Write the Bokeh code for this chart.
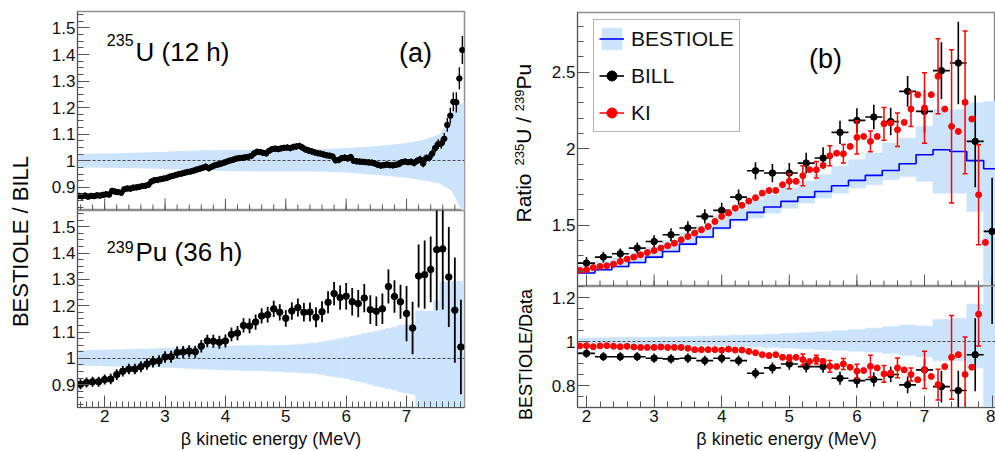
import numpy as np
from bokeh.plotting import figure
from bokeh.layouts import row, column
from bokeh.models import Range1d, FixedTicker, CustomJSTickFormatter, Legend, LegendItem
from bokeh.core.properties import value
from bokeh.embed import file_html
from bokeh.resources import INLINE

FONT = "Liberation Sans"
BAND = "#cbe3fb"
AXC = "#555555"

# ---------------- (a) top : 235U, BESTIOLE / BILL, 0.05 MeV bins ----------------
U_E = [round(1.575 + 0.05 * i, 3) for i in range(128)]
U_RATIO = [0.868, 0.866, 0.869, 0.865, 0.868, 0.867, 0.870, 0.869, 0.872, 0.874,
           0.873, 0.887, 0.884, 0.882, 0.880, 0.893, 0.896, 0.895, 0.899, 0.900,
           0.902, 0.905, 0.906, 0.910, 0.922, 0.927, 0.928, 0.931, 0.933, 0.935,
           0.940, 0.943, 0.946, 0.950, 0.952, 0.955, 0.958, 0.960, 0.963, 0.967,
           0.970, 0.974, 0.978, 0.972, 0.978, 0.983, 0.986, 0.989, 0.993, 0.997,
           1.001, 1.004, 1.008, 1.010, 1.011, 1.013, 1.015, 1.018, 1.028, 1.034,
           1.033, 1.030, 1.028, 1.038, 1.044, 1.046, 1.044, 1.047, 1.049, 1.050,
           1.048, 1.052, 1.054, 1.056, 1.050, 1.043, 1.039, 1.036, 1.032, 1.029,
           1.027, 1.024, 1.021, 1.019, 1.016, 1.002, 1.003, 1.010, 1.012, 1.009,
           1.014, 1.000, 0.998, 0.997, 0.996, 0.995, 0.994, 0.993, 0.990, 0.985,
           0.982, 0.984, 0.986, 0.984, 0.983, 0.985, 0.988, 0.995, 0.997, 0.995,
           0.996, 0.992, 1.000, 1.005, 0.990, 1.010, 1.012, 1.027, 1.048, 1.063,
           1.065, 1.083, 1.135, 1.170, 1.222, 1.220, 1.310, 1.417]
U_ERR = [0.011, 0.011, 0.011, 0.011, 0.011, 0.011, 0.011, 0.011, 0.011, 0.011,
         0.011, 0.011, 0.011, 0.011, 0.011, 0.011, 0.011, 0.011, 0.011, 0.011,
         0.011, 0.011, 0.011, 0.011, 0.011, 0.011, 0.011, 0.011, 0.011, 0.011,
         0.011, 0.011, 0.011, 0.011, 0.011, 0.011, 0.011, 0.011, 0.011, 0.011,
         0.011, 0.011, 0.011, 0.011, 0.011, 0.011, 0.011, 0.011, 0.011, 0.011,
         0.011, 0.011, 0.011, 0.011, 0.011, 0.011, 0.011, 0.011, 0.011, 0.011,
         0.011, 0.011, 0.011, 0.011, 0.011, 0.011, 0.011, 0.011, 0.011, 0.011,
         0.012, 0.012, 0.012, 0.012, 0.012, 0.012, 0.012, 0.012, 0.012, 0.012,
         0.012, 0.012, 0.012, 0.012, 0.012, 0.012, 0.012, 0.012, 0.012, 0.012,
         0.012, 0.012, 0.012, 0.012, 0.012, 0.012, 0.012, 0.012, 0.012, 0.012,
         0.012, 0.012, 0.012, 0.012, 0.012, 0.012, 0.012, 0.012, 0.012, 0.012,
         0.013, 0.013, 0.013, 0.014, 0.014, 0.015, 0.015, 0.016, 0.017, 0.018,
         0.020, 0.022, 0.026, 0.030, 0.035, 0.038, 0.042, 0.053]
U_BAND_E = [1.55, 2.0, 2.5, 3.0, 3.6, 4.5, 5.5, 6.0, 6.5, 7.0, 7.3, 7.55, 7.65, 7.73, 7.81, 7.9, 7.96]
U_BAND_HI = [1.027, 1.028, 1.030, 1.034, 1.040, 1.042, 1.043, 1.048, 1.055, 1.067, 1.080, 1.100,
             1.133, 1.170, 1.210, 1.215, 1.220]
U_BAND_LO = [0.975, 0.974, 0.972, 0.969, 0.964, 0.960, 0.960, 0.956, 0.947, 0.936, 0.925, 0.915,
             0.900, 0.890, 0.860, 0.818, 0.800]

# ---------------- (a) bottom : 239Pu, 0.1 MeV bins ----------------
PU_E = [round(1.6 + 0.1 * i, 2) for i in range(64)]
PU_RATIO = [0.901, 0.908, 0.911, 0.911, 0.919, 0.921, 0.938, 0.951, 0.959, 0.959,
            0.968, 0.978, 0.987, 0.990, 1.005, 1.006, 1.022, 1.024, 1.027, 1.025,
            1.046, 1.066, 1.065, 1.061, 1.066, 1.091, 1.096, 1.125, 1.123, 1.138,
            1.161, 1.166, 1.188, 1.175, 1.152, 1.180, 1.193, 1.175, 1.176, 1.156,
            1.177, 1.213, 1.246, 1.231, 1.236, 1.215, 1.208, 1.229, 1.185, 1.179,
            1.188, 1.273, 1.235, 1.215, 1.170, 1.115, 1.313, 1.318, 1.338, 1.413,
            1.416, 1.309, 1.183, 1.043]
PU_ERR = [0.019, 0.019, 0.019, 0.019, 0.019, 0.020, 0.020, 0.020, 0.020, 0.020,
          0.021, 0.021, 0.022, 0.022, 0.022, 0.023, 0.023, 0.023, 0.023, 0.023,
          0.024, 0.024, 0.025, 0.025, 0.025, 0.026, 0.027, 0.027, 0.028, 0.029,
          0.029, 0.030, 0.031, 0.031, 0.032, 0.033, 0.034, 0.035, 0.036, 0.038,
          0.040, 0.042, 0.044, 0.046, 0.050, 0.052, 0.052, 0.054, 0.055, 0.056,
          0.058, 0.065, 0.062, 0.065, 0.105, 0.100, 0.120, 0.130, 0.125, 0.230,
          0.230, 0.190, 0.200, 0.180]
PU_BAND_HI = [1.030, 1.030, 1.031, 1.031, 1.032, 1.032, 1.033, 1.033, 1.034, 1.034,
              1.035, 1.035, 1.036, 1.037, 1.038, 1.039, 1.040, 1.041, 1.042, 1.043,
              1.044, 1.045, 1.046, 1.046, 1.047, 1.047, 1.048, 1.048, 1.049, 1.049,
              1.049, 1.049, 1.049, 1.050, 1.050, 1.051, 1.053, 1.054, 1.056, 1.058,
              1.062, 1.066, 1.070, 1.074, 1.079, 1.083, 1.088, 1.093, 1.098, 1.103,
              1.108, 1.113, 1.118, 1.125, 1.128, 1.130, 1.180, 1.180, 1.180, 1.220,
              1.290, 1.290, 1.293, 1.293]
PU_BAND_LO = [0.973, 0.973, 0.972, 0.972, 0.971, 0.971, 0.970, 0.970, 0.969, 0.969,
              0.968, 0.968, 0.967, 0.967, 0.966, 0.965, 0.964, 0.963, 0.962, 0.961,
              0.960, 0.959, 0.958, 0.957, 0.956, 0.955, 0.955, 0.954, 0.954, 0.954,
              0.953, 0.952, 0.951, 0.950, 0.948, 0.947, 0.946, 0.945, 0.944, 0.942,
              0.938, 0.935, 0.931, 0.927, 0.923, 0.918, 0.913, 0.907, 0.901, 0.895,
              0.890, 0.885, 0.880, 0.872, 0.868, 0.863, 0.700, 0.700, 0.700, 0.700,
              0.700, 0.700, 0.700, 0.700]

# ---------------- (b) : ratio 235U / 239Pu, 0.25 MeV bins ----------------
B_E = [2.0, 2.25, 2.5, 2.75, 3.0, 3.25, 3.5, 3.75, 4.0, 4.25, 4.5, 4.75, 5.0,
       5.25, 5.5, 5.75, 6.0, 6.25, 6.5, 6.75, 7.0, 7.25, 7.5, 7.75, 8.0]
BEST = [1.188, 1.209, 1.231, 1.257, 1.292, 1.329, 1.377, 1.423, 1.482, 1.536, 1.584, 1.619, 1.656,
        1.684, 1.721, 1.758, 1.793, 1.826, 1.858, 1.902, 1.961, 1.993, 1.982, 1.922, 1.869]
BEST_HI = [1.237, 1.264, 1.286, 1.318, 1.357, 1.401, 1.449, 1.497, 1.558, 1.606, 1.667, 1.699, 1.743,
           1.787, 1.830, 1.885, 1.928, 1.972, 2.037, 2.070, 2.146, 2.255, 2.255, 2.299, 2.309]
BEST_LO = [1.183, 1.203, 1.224, 1.248, 1.283, 1.322, 1.368, 1.414, 1.471, 1.525, 1.547, 1.580, 1.612,
           1.645, 1.678, 1.710, 1.743, 1.765, 1.797, 1.819, 1.787, 1.710, 1.710, 1.590, 1.120]
BILL = [1.253, 1.292, 1.314, 1.351, 1.394, 1.438, 1.482, 1.558, 1.597, 1.684, 1.856, 1.841, 1.841,
        1.906, 1.939, 2.107, 2.185, 2.207, 2.178, 2.375, 2.244, 2.510, 2.560, 2.048, 1.460]
BILL_ERR = [0.040, 0.035, 0.035, 0.037, 0.040, 0.042, 0.045, 0.047, 0.050, 0.050, 0.055, 0.060, 0.065,
            0.068, 0.070, 0.076, 0.080, 0.080, 0.090, 0.100, 0.140, 0.185, 0.270, 0.300, 0.350]

KI_E = [round(1.9 + 0.1 * i, 2) for i in range(61)]
KI = [1.205, 1.209, 1.224, 1.231, 1.235, 1.246, 1.264, 1.279, 1.292, 1.307,
      1.322, 1.335, 1.351, 1.366, 1.383, 1.405, 1.427, 1.449, 1.471, 1.492,
      1.525, 1.558, 1.580, 1.612, 1.630, 1.658, 1.680, 1.710, 1.727, 1.727,
      1.765, 1.787, 1.787, 1.824, 1.863, 1.863, 1.891, 1.954, 1.971, 1.967,
      2.015, 2.074, 2.080, 2.048, 2.080, 2.163, 2.168, 2.124, 2.172, 2.259,
      2.353, 2.266, 2.353, 2.473, 2.259, 2.146, 2.113, 2.303, 2.194, 1.699,
      1.388]
KI_ERR = [0, 0, 0, 0, 0, 0, 0, 0, 0, 0,
          0, 0, 0, 0, 0, 0, 0, 0, 0, 0,
          0, 0, 0, 0, 0, 0, 0, 0, 0, 0,
          0, 0.049, 0, 0.065, 0, 0.054, 0, 0.065, 0, 0.060,
          0, 0.109, 0, 0.068, 0, 0.107, 0, 0.109, 0, 0.114,
          0, 0.230, 0, 0.245, 0, 0.500, 0, 0.466, 0, 0.327,
          0]

# lower (b) : BESTIOLE / Data
RB_HI = [1.016, 1.017, 1.018, 1.019, 1.020, 1.021, 1.022, 1.024, 1.026, 1.028, 1.030, 1.033, 1.036,
         1.040, 1.044, 1.049, 1.054, 1.060, 1.067, 1.075, 1.070, 1.100, 1.105, 1.170, 1.300]
RB_LO = [0.988, 0.987, 0.986, 0.985, 0.984, 0.983, 0.982, 0.981, 0.980, 0.978, 0.976, 0.973, 0.970,
         0.967, 0.963, 0.959, 0.956, 0.952, 0.946, 0.938, 0.930, 0.912, 0.912, 0.880, 0.650]
RB_BILL = [0.946, 0.931, 0.931, 0.931, 0.924, 0.921, 0.924, 0.913, 0.924, 0.913, 0.856, 0.880, 0.898,
           0.886, 0.886, 0.833, 0.822, 0.827, 0.850, 0.803, 0.871, 0.795, 0.777, 0.940, 1.280]
RB_BILL_ERR = [0.020, 0.020, 0.020, 0.020, 0.021, 0.021, 0.022, 0.022, 0.023, 0.023, 0.024, 0.025, 0.026,
               0.027, 0.028, 0.030, 0.032, 0.032, 0.035, 0.038, 0.050, 0.072, 0.090, 0.166, 0.200]
RB_KI = [0.980, 0.981, 0.976, 0.980, 0.981, 0.978, 0.976, 0.978, 0.975, 0.973,
         0.973, 0.973, 0.975, 0.973, 0.973, 0.973, 0.969, 0.963, 0.963, 0.963,
         0.963, 0.961, 0.965, 0.961, 0.961, 0.955, 0.949, 0.940, 0.936, 0.940,
         0.928, 0.924, 0.928, 0.918, 0.909, 0.918, 0.910, 0.887, 0.886, 0.898,
         0.883, 0.865, 0.868, 0.887, 0.880, 0.853, 0.857, 0.880, 0.871, 0.850,
         0.826, 0.871, 0.841, 0.804, 0.886, 0.928, 0.940, 0.850, 0.883, 1.124,
         1.350]
RB_KI_ERR = [0, 0, 0, 0, 0, 0, 0, 0, 0, 0,
             0, 0, 0, 0, 0, 0, 0, 0, 0, 0,
             0, 0, 0, 0, 0, 0, 0, 0, 0, 0,
             0, 0.015, 0, 0.025, 0, 0.020, 0, 0.027, 0, 0.025,
             0, 0.032, 0, 0.050, 0, 0.038, 0, 0.045, 0, 0.030,
             0, 0.085, 0, 0.070, 0, 0.190, 0, 0.170, 0, 0.145,
             0]

A_XTICKS = [2, 3, 4, 5, 6, 7]
A_YTICKS = [0.9, 1.0, 1.1, 1.2, 1.3, 1.4, 1.5]
B_XTICKS = [2, 3, 4, 5, 6, 7, 8]
B_YTICKS = [1.5, 2.0, 2.5]
BB_YTICKS = [0.8, 1.0, 1.2]
XTITLE = "β kinetic energy (MeV)"

FMT = CustomJSTickFormatter(code="return String(Math.round(tick*1000)/1000);")


def style_axis(ax):
    ax.axis_line_color = AXC
    ax.major_tick_line_color = AXC
    ax.minor_tick_line_color = AXC
    ax.major_tick_in = 12
    ax.major_tick_out = 0
    ax.minor_tick_in = 6
    ax.minor_tick_out = 0
    ax.major_label_text_font = FONT
    ax.major_label_text_font_size = "17px"
    ax.major_label_text_color = "#111111"
    ax.major_label_standoff = 2
    ax.axis_label_text_font = FONT
    ax.axis_label_text_font_style = "normal"
    ax.axis_label_text_font_size = "18px"
    ax.axis_label_text_color = "#111111"
    ax.axis_label_standoff = 4
    ax.formatter = FMT


def make_fig(w, h, xr, yr, mbl, mbr, mbt, mbb, xaxis=True):
    p = figure(width=w, height=h, x_range=Range1d(*xr), y_range=Range1d(*yr),
               output_backend="svg", toolbar_location=None,
               x_axis_location="below" if xaxis else None,
               min_border_left=mbl, min_border_right=mbr,
               min_border_top=mbt, min_border_bottom=mbb)
    p.xgrid.visible = False
    p.ygrid.visible = False
    p.outline_line_color = "#8c8c8c"
    p.outline_line_width = 1.5
    for ax in p.axis:
        style_axis(ax)
    return p


def ticks_list(a, b, step):
    return [round(v, 4) for v in np.arange(a, b + 1e-9, step)]


def inner_xticks(p, major, minor_t, yr, frame_h):
    # tick marks on the lower edge of an upper panel, pointing into the frame
    k = (yr[1] - yr[0]) / frame_h
    for tl, ln in ((minor_t, 6), (major, 12)):
        n = len(tl)
        p.segment(x0=tl, y0=[yr[0]] * n, x1=tl, y1=[yr[0] + ln * k] * n, line_color=AXC, line_width=1)


def strip(w, h):
    p = figure(width=w, height=h, x_range=Range1d(0, w), y_range=Range1d(0, h),
               x_axis_type=None, y_axis_type=None, output_backend="svg",
               toolbar_location=None, min_border=0)
    p.outline_line_color = None
    return p


def errbars(p, xs, ys, errs, color, width=1.5, xhalf=None):
    xs = np.array(xs, float); ys = np.array(ys, float); errs = np.array(errs, float)
    r = p.segment(x0=xs, y0=ys - errs, x1=xs, y1=ys + errs, line_color=color, line_width=width)
    rh = None
    if xhalf is not None:
        rh = p.segment(x0=xs - xhalf, y0=ys, x1=xs + xhalf, y1=ys, line_color=color, line_width=width)
    return r, rh


XA = (1.55, 7.96)
YA = (0.813, 1.562)
XB = (1.867, 8.05)
YB1 = (1.1, 2.89)
YB2 = (0.70, 1.25)
H = 451

# ---------------- panel (a) top ----------------
pa1 = make_fig(434, 210, XA, YA, 37, 10, 11, 0, xaxis=False)
pa1.yaxis.ticker = FixedTicker(ticks=A_YTICKS, minor_ticks=ticks_list(0.825, 1.55, 0.025))
pa1.varea(x=U_BAND_E, y1=U_BAND_LO, y2=U_BAND_HI, fill_color=BAND)
pa1.hspan(y=[1.0], line_color="#444444", line_dash="3 2", line_width=1)
inner_xticks(pa1, A_XTICKS, ticks_list(1.6, 7.9, 0.2), YA, 199)
errbars(pa1, U_E, U_RATIO, U_ERR, "black", 1.4, xhalf=0.025)
pa1.scatter(U_E, U_RATIO, size=5.5, color="black")
pa1.text(x=[2.478], y=[1.453], text=["235"], text_font=value(FONT), text_font_size="16px",
         text_align="right", text_baseline="alphabetic")
pa1.text(x=[2.511], y=[1.408], text=["U (12 h)"], text_font=value(FONT), text_font_size="26px",
         text_align="left", text_baseline="alphabetic")
pa1.text(x=[7.149], y=[1.404], text=["(a)"], text_font=value(FONT), text_font_size="27px",
         text_align="center", text_baseline="alphabetic")

# ---------------- panel (a) bottom ----------------
pa2 = make_fig(434, 241, XA, YA, 37, 10, 0, 42)
pa2.xaxis.ticker = FixedTicker(ticks=A_XTICKS, minor_ticks=ticks_list(1.6, 7.9, 0.1))
pa2.xaxis.axis_label = XTITLE
pa2.yaxis.ticker = FixedTicker(ticks=A_YTICKS, minor_ticks=ticks_list(0.825, 1.55, 0.025))
pe = np.array(PU_E)
pa2.quad(left=pe - 0.05, right=pe + 0.05, bottom=PU_BAND_LO, top=PU_BAND_HI,
         fill_color=BAND, line_color=BAND, line_width=0.6)
pa2.hspan(y=[1.0], line_color="#444444", line_dash="3 2", line_width=1)
errbars(pa2, PU_E, PU_RATIO, PU_ERR, "black", 1.8)
pa2.scatter(PU_E, PU_RATIO, size=6.5, color="black")
pa2.text(x=[2.478], y=[1.425], text=["239"], text_font=value(FONT), text_font_size="16px",
         text_align="right", text_baseline="alphabetic")
pa2.text(x=[2.511], y=[1.404], text=["Pu (36 h)"], text_font=value(FONT), text_font_size="26px",
         text_align="left", text_baseline="alphabetic")

# ---------------- panel (b) top ----------------
pb1 = make_fig(457, 286, XB, YB1, 39, 0, 12, 0, xaxis=False)
pb1.yaxis.ticker = FixedTicker(ticks=B_YTICKS, minor_ticks=ticks_list(1.1, 2.8, 0.1))
be = np.array(B_E)
r_band = pb1.quad(left=be - 0.125, right=be + 0.125, bottom=BEST_LO, top=BEST_HI,
                  fill_color=BAND, line_color=BAND, line_width=0.6)
edges = list(be - 0.125) + [B_E[-1] + 0.125]
r_step = pb1.step(x=edges, y=BEST + [BEST[-1]], mode="after", line_color="#0000ff", line_width=1.6)
inner_xticks(pb1, B_XTICKS, ticks_list(1.8, 8.0, 0.2), YB1, 274)
r_bill_v, r_bill_h = errbars(pb1, B_E, BILL, BILL_ERR, "black", 1.6, xhalf=0.125)
r_bill = pb1.scatter(B_E, BILL, size=6.5, color="black")
ki_i = [i for i, e in enumerate(KI_ERR) if e > 0]
kx = np.array([KI_E[i] for i in ki_i]); ky = np.array([KI[i] for i in ki_i]); ke = np.array([KI_ERR[i] for i in ki_i])
r_ki_v = pb1.segment(x0=kx, y0=ky - ke, x1=kx, y1=ky + ke, line_color="red", line_width=1.5)
pb1.scatter(np.concatenate([kx, kx]), np.concatenate([ky - ke, ky + ke]), marker="dash", size=5,
            line_color="red", line_width=1.5)
r_ki = pb1.scatter(KI_E, KI, size=6, color="red")
pb1.text(x=[5.535], y=[2.589], text=["(b)"], text_font=value(FONT), text_font_size="27px",
         text_align="center", text_baseline="alphabetic")
leg = Legend(items=[LegendItem(label="BESTIOLE", renderers=[r_band, r_step]),
                    LegendItem(label="BILL", renderers=[r_bill_h, r_bill]),
                    LegendItem(label="KI", renderers=[r_ki_v, r_ki])],
             location=(16, 154), orientation="vertical",
             border_line_color="#666666", border_line_width=1,
             background_fill_color="white", background_fill_alpha=1.0,
             padding=5, spacing=10, margin=0,
             glyph_width=25, glyph_height=27, label_height=27, label_standoff=7,
             label_text_font=FONT, label_text_font_size="21px", label_text_color="#111111")
pb1.add_layout(leg)

# ---------------- panel (b) bottom ----------------
pb2 = make_fig(457, 165, XB, YB2, 39, 0, 0, 44)
pb2.xaxis.ticker = FixedTicker(ticks=B_XTICKS, minor_ticks=ticks_list(1.8, 8.0, 0.2))
pb2.xaxis.axis_label = XTITLE
pb2.yaxis.ticker = FixedTicker(ticks=BB_YTICKS, minor_ticks=ticks_list(0.7, 1.25, 0.05))
pb2.quad(left=be - 0.125, right=be + 0.125, bottom=RB_LO, top=RB_HI,
         fill_color=BAND, line_color=BAND, line_width=0.6)
pb2.hspan(y=[1.0], line_color="#444444", line_dash="3 2", line_width=1)
errbars(pb2, B_E, RB_BILL, RB_BILL_ERR, "black", 1.6, xhalf=0.125)
pb2.scatter(B_E, RB_BILL, size=6.5, color="black")
ki2 = [i for i, e in enumerate(RB_KI_ERR) if e > 0]
kx2 = np.array([KI_E[i] for i in ki2]); ky2 = np.array([RB_KI[i] for i in ki2]); ke2 = np.array([RB_KI_ERR[i] for i in ki2])
pb2.segment(x0=kx2, y0=ky2 - ke2, x1=kx2, y1=ky2 + ke2, line_color="red", line_width=1.5)
pb2.scatter(np.concatenate([kx2, kx2]), np.concatenate([ky2 - ke2, ky2 + ke2]), marker="dash", size=5,
            line_color="red", line_width=1.5)
pb2.scatter(KI_E, RB_KI, size=6, color="red")

# ---------------- y-axis titles (strips) ----------------
sA = strip(40, H)
sA.text(x=[20], y=[H - 241], text=["BESTIOLE / BILL"], angle=np.pi / 2, text_font=value(FONT),
        text_font_size="22px", text_align="center", text_baseline="middle")

sB = strip(64, H)
CW = {"R": .722, "a": .556, "t": .278, "i": .222, "o": .556, " ": .278, "2": .556, "3": .556,
      "5": .556, "9": .556, "U": .722, "/": .278, "P": .667, "u": .556}
pieces = [("Ratio", 21, False), (8, None, None), ("235", 13, True), ("U", 21, False), (5.8, None, None),
          ("/", 21, False), (5.8, None, None), ("239", 13, True), ("Pu", 21, False)]
ypos = float(H - 222)
for txt, fs, sup in pieces:
    if fs is None:
        ypos += txt
        continue
    wdt = sum(CW[c] for c in txt) * fs
    sB.text(x=[44.5 if sup else 49.2], y=[ypos + wdt / 2], text=[txt], angle=np.pi / 2,
            text_font=value(FONT), text_font_size=f"{fs}px", text_align="center", text_baseline="middle")
    ypos += wdt
sB.text(x=[51], y=[H - 354], text=["BESTIOLE/Data"], angle=np.pi / 2, text_font=value(FONT),
        text_font_size="18px", text_align="center", text_baseline="middle")

layout = row(sA, column(pa1, pa2), sB, column(pb1, pb2))
open("out.html", "w").write(file_html(layout, INLINE))
